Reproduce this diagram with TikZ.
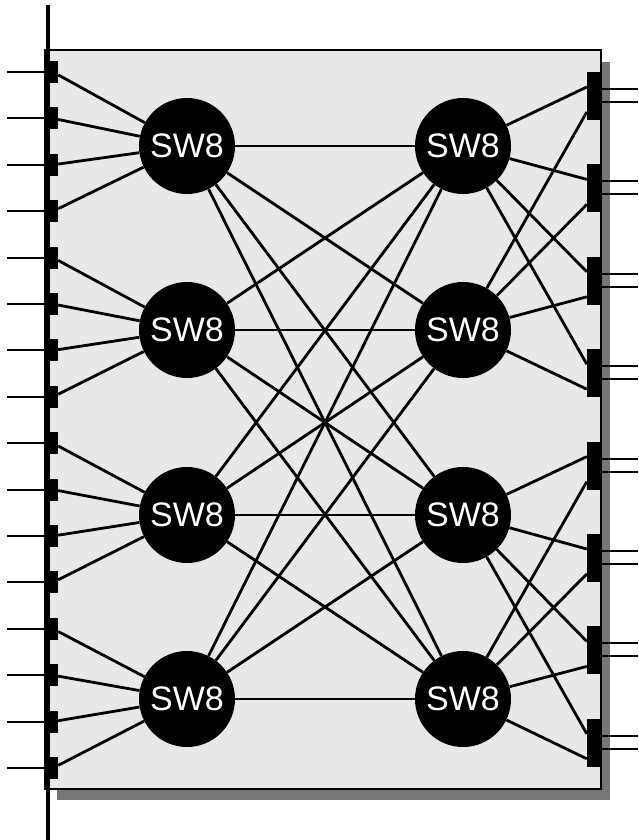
\documentclass[tikz,border=0pt]{standalone}
\usepackage{fontspec}
\setmainfont{Liberation Sans}
\usetikzlibrary{calc}
\definecolor{boxgray}{HTML}{E8E8E8}
\definecolor{shadowgray}{HTML}{767676}
\begin{document}
\begin{tikzpicture}[x=1pt,y=-1pt,
  sw/.style={circle,fill=black,minimum size=96pt,inner sep=0pt,text=white,font=\fontsize{34}{34}\selectfont},
  lport/.style={rectangle,fill=black,minimum width=10pt,minimum height=22pt,inner sep=0pt},
  rport/.style={rectangle,fill=black,minimum width=14pt,minimum height=48pt,inner sep=0pt},
  wire/.style={line width=2.8pt},
  stub/.style={line width=2pt}]
\useasboundingbox (0,0) rectangle (639,840);
% shadow and frame
\fill[shadowgray] (57,62) rectangle (610,800);
\draw[fill=boxgray,line width=1.5pt] (45,50) rectangle (601,789);
\coordinate (bustop) at (48,5);
\coordinate (busbot) at (48,840);
\draw[line width=4.5pt] (bustop) -- (busbot);
% switches
\node[sw] (A1) at (187,146) {SW8};
\node[sw] (A2) at (187,330) {SW8};
\node[sw] (A3) at (187,515) {SW8};
\node[sw] (A4) at (187,699) {SW8};
\node[sw] (B1) at (463,146) {SW8};
\node[sw] (B2) at (463,330) {SW8};
\node[sw] (B3) at (463,515) {SW8};
\node[sw] (B4) at (463,699) {SW8};
% left ports
\foreach \k in {0,...,15}{
  \pgfmathsetmacro\yy{72+46.4*\k}
  \pgfmathtruncatemacro\s{int(\k/4)+1}
  \node[lport] (L\k) at (53,\yy) {};
  \coordinate (LE\k) at (7,\yy);
  \draw[stub] (LE\k) -- (L\k.west);
  \draw[wire] (L\k) -- (A\s);
}
% middle full mesh
\foreach \i in {1,...,4}{
  \foreach \j in {1,...,4}{
    \draw[wire] (A\i) -- (B\j);
  }
}
% right ports
\foreach \m in {0,...,7}{
  \pgfmathsetmacro\yy{96+92.4*\m}
  \node[rport] (R\m) at (594,\yy) {};
  \coordinate (RA\m) at (638,\yy-7);
  \coordinate (RB\m) at (638,\yy+6);
  \draw[stub] ($(R\m.east)+(0,-7)$) -- (RA\m);
  \draw[stub] ($(R\m.east)+(0,6)$) -- (RB\m);
}
% right switch to port wiring
\foreach \j in {1,...,4}{
  \pgfmathtruncatemacro\p{4*int((\j-1)/2)}
  \pgfmathsetmacro\off{ifthenelse(mod(\j,2)==1,-9,16)}
  \foreach \q in {0,...,3}{
    \pgfmathtruncatemacro\m{\p+\q}
    \draw[wire] (B\j) -- ($(R\m.west)+(0,\off)$);
  }
}
\end{tikzpicture}
\end{document}
